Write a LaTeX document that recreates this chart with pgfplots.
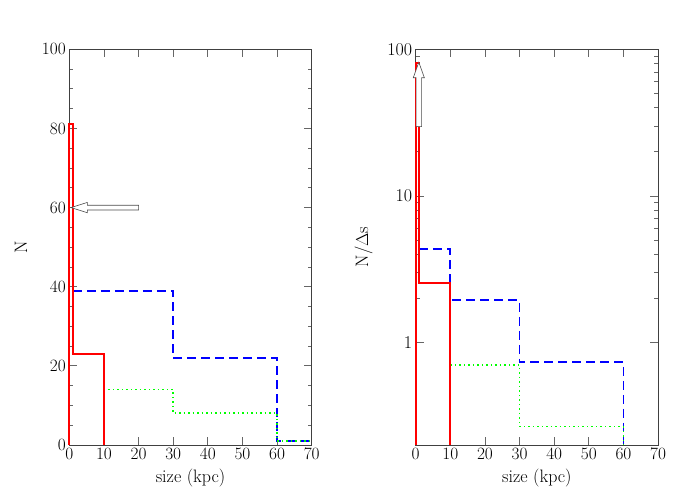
\documentclass[border=0pt]{standalone}
\usepackage{pgfplots}
\pgfplotsset{compat=1.18}
\definecolor{pgreen}{rgb}{0,1,0}
\definecolor{pred}{rgb}{1,0,0}
\definecolor{pblue}{rgb}{0,0,1}

\pgfplotsset{
  histo/.style={
    scale only axis, width=242.4pt, height=395.7pt,
    anchor=south west,
    xmin=0, xmax=70, xtick={0,10,...,70},
    axis line style={black!75, line width=0.8pt},
    tick style={black!60, line width=0.8pt},
    major tick length=8pt, minor tick length=4pt,
    ticklabel style={font=\fontsize{18}{21}\selectfont},
    label style={font=\fontsize{18}{21}\selectfont},
    xlabel={size (kpc)},
    xlabel style={yshift=-2pt},
    clip=false,
  },
  redh/.style={pred, line width=2pt, const plot},
  blueh/.style={pblue, line width=1.7pt, const plot, dash pattern=on 9pt off 5pt},
  greenh/.style={pgreen, line width=1.7pt, const plot, dash pattern=on 1.5pt off 3pt},
}

\begin{document}
\begin{tikzpicture}[x=1pt,y=1pt]
\useasboundingbox (0,0) rectangle (693,495);

% left panel: counts
\begin{axis}[histo, at={(69.3pt,50pt)},
  ymin=0, ymax=100, ytick={0,20,...,100}, minor y tick num=3,
  ylabel={N}, ylabel style={yshift=8pt}]
  \addplot[blueh] coordinates {(1,39) (30,22) (60,1) (70,1)};
  \addplot[greenh] coordinates {(10,14) (30,8) (60,1) (70,1)};
  \addplot[redh] coordinates {(0,0) (0,81) (1,23) (10,0)};
  \draw[black!70, line width=0.6pt, fill=white]
    (axis cs:0.5,60) -- (axis cs:5.2,61.3) -- (axis cs:5.2,60.6) -- (axis cs:20,60.6)
    -- (axis cs:20,59.4) -- (axis cs:5.2,59.4) -- (axis cs:5.2,58.7) -- cycle;
\end{axis}

% right panel: counts per unit size
\begin{axis}[histo, at={(415.7pt,50pt)},
  ymode=log, ymin=0.2, ymax=100,
  ytick={1,10,100}, yticklabels={1,10,100},
  ylabel={N/$\Delta$s}, ylabel style={yshift=8pt}]
  \addplot[blueh] coordinates {(1,4.33) (10,1.95) (30,0.733) (60,0.2)};
  \addplot[greenh] coordinates {(10,0.70) (30,0.267) (60,0.2)};
  \addplot[redh] coordinates {(0,0.2) (0,81) (1,2.56) (10,0.2)};
  \draw[black!70, line width=0.6pt, fill=white]
    (axis cs:0.9,81.6) -- (axis cs:2.5,64) -- (axis cs:1.7,64) -- (axis cs:1.7,29.7)
    -- (axis cs:0.1,29.7) -- (axis cs:0.1,64) -- (axis cs:-0.7,64) -- cycle;
\end{axis}
\end{tikzpicture}
\end{document}
